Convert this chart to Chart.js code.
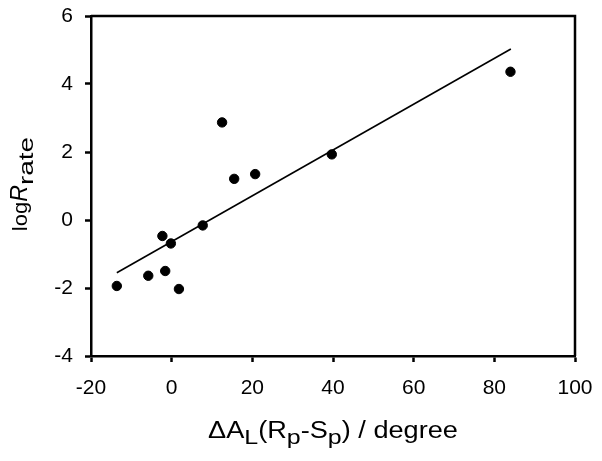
<!DOCTYPE html>
<html>
<head>
<meta charset="utf-8">
<script src="https://cdn.jsdelivr.net/npm/chart.js@4.4.1/dist/chart.umd.min.js"></script>
<style>
  html, body { margin: 0; padding: 0; background: #fff; }
  #wrap { width: 602px; height: 461px; }
</style>
</head>
<body>
<div id="wrap"><canvas id="rateChart" width="602" height="461"></canvas></div>
<script>
// datos
const deltaAL = [-13.6, -5.8, -2.3, -1.6, -0.2, 1.8, 7.7, 12.5, 15.5, 20.7, 39.7, 84.0];
const logRate = [-1.94, -1.64, -0.47, -1.50, -0.69, -2.03, -0.16, 2.87, 1.21, 1.35, 1.93, 4.36];
const fitX = [-13.6, 84.1];
const fitY = [-1.55, 5.03];
const xTicks = [-20, 0, 20, 40, 60, 80, 100];
const yTicks = [-4, -2, 0, 2, 4, 6];

const FONT = '"Liberation Sans", Arial, sans-serif';

function partFont(p) {
    return (p.italic ? 'italic ' : '') + p.size + 'px ' + FONT;
}

// dibuja un texto con subíndices, centrado en cx
function drawRich(ctx, parts, cx, baseline) {
    let total = 0;
    parts.forEach(p => {
        ctx.font = partFont(p);
        p.w = ctx.measureText(p.t).width * (p.sx || 1);
        total += p.w;
    });
    let x = cx - total / 2;
    ctx.textAlign = 'left';
    ctx.textBaseline = 'alphabetic';
    parts.forEach(p => {
        ctx.font = partFont(p);
        ctx.save();
        ctx.translate(x, baseline + (p.dy || 0));
        ctx.scale(p.sx || 1, 1);
        ctx.fillText(p.t, 0, 0);
        ctx.restore();
        x += p.w;
    });
}

const framePlugin = {
    id: 'frameAndTitles',
    afterDraw(chart) {
        const ctx = chart.ctx;
        const a = chart.chartArea;
        ctx.save();
        // marco superior y derecho
        ctx.strokeStyle = '#000';
        ctx.lineWidth = 2.5;
        ctx.beginPath();
        ctx.moveTo(a.left, a.top);
        ctx.lineTo(a.right, a.top);
        ctx.lineTo(a.right, a.bottom);
        ctx.stroke();

        ctx.fillStyle = '#000';
        // título eje x
        drawRich(ctx, [
            { t: '\u0394A', size: 23, sx: 1.18 },
            { t: 'L', size: 20, sx: 1.25, dy: 5.5 },
            { t: '(R', size: 23, sx: 1.18 },
            { t: 'p', size: 20, sx: 1.25, dy: 5.5 },
            { t: '-S', size: 23, sx: 1.18 },
            { t: 'p', size: 20, sx: 1.25, dy: 5.5 },
            { t: ') / degree', size: 23, sx: 1.18 }
        ], (a.left + a.right) / 2, 438);

        // título eje y (rotado)
        ctx.translate(27, 184);
        ctx.rotate(-Math.PI / 2);
        drawRich(ctx, [
            { t: 'log', size: 21, sx: 1.05 },
            { t: 'R', size: 23, italic: true },
            { t: 'rate', size: 20, sx: 1.4, dy: 6 }
        ], 0, 0);
        ctx.restore();
    }
};

const ctx = document.getElementById('rateChart').getContext('2d');

new Chart(ctx, {
    type: 'scatter',
    data: {
        datasets: [
            {
                label: 'datos',
                data: deltaAL.map((x, i) => ({ x: x, y: logRate[i] })),
                backgroundColor: '#000',
                borderColor: '#000',
                pointRadius: 4.7,
                pointHoverRadius: 4.7
            },
            {
                label: 'ajuste',
                data: fitX.map((x, i) => ({ x: x, y: fitY[i] })),
                showLine: true,
                borderColor: '#000',
                borderWidth: 1.6,
                pointRadius: 0,
                fill: false
            }
        ]
    },
    options: {
        responsive: false,
        animation: false,
        layout: { padding: { top: 16, right: 27, left: 0, bottom: 0 } },
        plugins: {
            legend: { display: false },
            tooltip: { enabled: false }
        },
        scales: {
            x: {
                type: 'linear',
                min: -20,
                max: 100,
                afterFit: s => {
                    s.height = 105;
                    s.paddingLeft = 0;
                    s.paddingRight = 0;
                },
                afterBuildTicks: s => { s.ticks = xTicks.map(v => ({ value: v })); },
                grid: {
                    drawOnChartArea: false,
                    drawTicks: true,
                    tickLength: 6,
                    tickColor: '#000',
                    tickWidth: 2.5
                },
                border: { display: true, color: '#000', width: 2.5 },
                ticks: {
                    color: '#000',
                    padding: 14,
                    maxRotation: 0,
                    font: { family: FONT, size: 21 }
                }
            },
            y: {
                type: 'linear',
                min: -4,
                max: 6,
                afterFit: s => {
                    s.width = 91;
                    s.paddingTop = 0;
                    s.paddingBottom = 0;
                },
                afterBuildTicks: s => { s.ticks = yTicks.map(v => ({ value: v })); },
                grid: {
                    drawOnChartArea: false,
                    drawTicks: true,
                    tickLength: 6,
                    tickColor: '#000',
                    tickWidth: 2.5
                },
                border: { display: true, color: '#000', width: 2.5 },
                ticks: {
                    color: '#000',
                    padding: 12,
                    font: { family: FONT, size: 21 }
                }
            }
        }
    },
    plugins: [framePlugin]
});
</script>
</body>
</html>
